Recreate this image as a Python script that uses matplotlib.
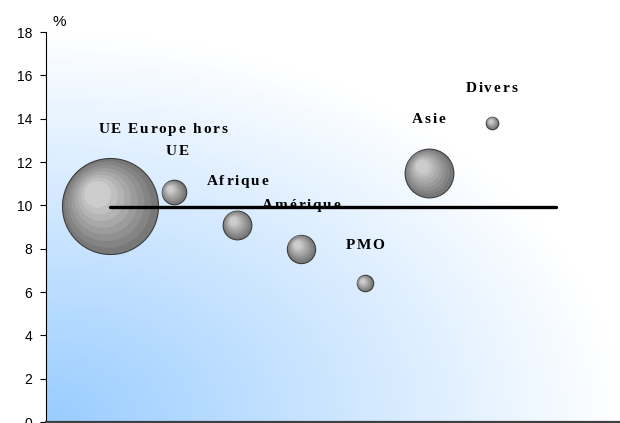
import numpy as np
import matplotlib
matplotlib.use("Agg")
import matplotlib.pyplot as plt
from matplotlib.transforms import offset_copy
from matplotlib.font_manager import FontProperties

# données
regions = ["UE", "Europe hors\nUE", "Afrique", "Amérique", "PMO", "Asie", "Divers"]
x_pos = [1, 2, 3, 4, 5, 6, 7]
taux = [9.95, 10.6, 9.1, 8.0, 6.4, 11.5, 13.8]
poids = [64.8, 4.2, 5.8, 5.6, 1.9, 16.7, 1.1]
moy_x = [1, 8]
moy_y = [9.9, 9.9]
yticks = [0, 2, 4, 6, 8, 10, 12, 14, 16, 18]

# décalages des étiquettes (pixels, centre du bloc)
label_off = [(0, 77), (4, 52), (0, 43), (0, 43), (0, 38), (0, 53), (-1, 35)]

fig = plt.figure(figsize=(6.2, 4.23), dpi=100)
ax = fig.add_axes([46 / 620, 1 / 423, 1 - 46 / 620, 390 / 423])
ax.set_xlim(0, 9)
ax.set_ylim(0, 18)

# fond dégradé depuis le coin inférieur gauche
u, v = np.meshgrid(np.linspace(0, 1, 300), np.linspace(0, 1, 300))
r = np.clip(np.sqrt(u ** 2 + v ** 2), 0, 1)[..., None]
base = np.array([0.60, 0.80, 1.0])
img = base + (1 - base) * r
ax.imshow(img, extent=[0, 9, 0, 18], origin="lower", aspect="auto", zorder=0)

# bulles ombrées
k = 11.93
n = 8
for x, y, p in zip(x_pos, taux, poids):
    d_px = np.sqrt(p) * k
    rad = d_px / 2
    for i in range(n):
        f = 1 - 0.72 * i / (n - 1)
        dx = -(1 - f) * 0.35 * rad
        dy = (1 - f) * 0.35 * rad
        tr = offset_copy(ax.transData, fig=fig, x=dx, y=dy, units="dots")
        g = 0.47 + 0.33 * i / (n - 1)
        ax.scatter([x], [y], s=(d_px * f * 0.72) ** 2, color=(g, g, g),
                   edgecolors="#3c3c3c" if i == 0 else "none",
                   linewidths=0.8, transform=tr, zorder=2 + i * 0.01)

# étiquettes espacées (lettre par lettre)
fp = FontProperties(family="Liberation Serif", weight="bold", size=11)
renderer = fig.canvas.get_renderer()


def char_w(ch):
    w2 = renderer.get_text_width_height_descent("xx", fp, ismath=False)[0]
    w3 = renderer.get_text_width_height_descent("x" + ch + "x", fp, ismath=False)[0]
    return w3 - w2


track = 1.8
line_h = 22
for x, y, name, off in zip(x_pos, taux, regions, label_off):
    lines = name.split("\n")
    for j, line in enumerate(lines):
        ws = [char_w(c) for c in line]
        total = sum(ws) + track * (len(line) - 1)
        cx = off[0] - total / 2
        cy = off[1] + ((len(lines) - 1) / 2 - j) * line_h
        for c, w in zip(line, ws):
            if c != " ":
                ax.annotate(c, (x, y), xytext=(cx, cy), textcoords="offset pixels",
                            ha="left", va="center", fontproperties=fp, zorder=4)
            cx += w + track

# moyenne
ax.plot(moy_x, moy_y, color="black", linewidth=2.4, zorder=5,
        solid_capstyle="round")

ax.set_yticks(yticks)
ax.set_xticks([])
ax.tick_params(axis="y", direction="out", length=4, labelsize=10,
               pad=6)
for lab in ax.get_yticklabels():
    lab.set_family("Liberation Sans")
ax.spines["top"].set_visible(False)
ax.spines["right"].set_visible(False)
ax.spines["left"].set_color("black")
ax.spines["bottom"].set_color("#404040")
ax.spines["bottom"].set_linewidth(1.6)
ax.text(0.012, 1.015, "%", transform=ax.transAxes, ha="left", va="baseline",
        family="Liberation Sans", fontsize=11)

fig.savefig("out.png", dpi=100)
